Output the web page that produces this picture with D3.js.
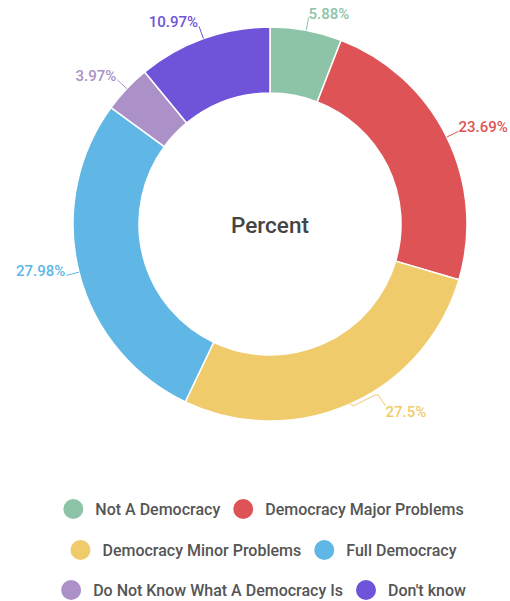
<!DOCTYPE html>
<html>
<head>
<meta charset="utf-8">
<script src="https://cdn.jsdelivr.net/npm/d3@7"></script>
<style>
  body { margin: 0; background: #fff; }
  text { font-family: Roboto, "Noto Sans", sans-serif; }
</style>
</head>
<body>
<div id="chart"></div>
<script>
let width = 510,
    height = 601;

let categories = ["Not A Democracy", "Democracy Major Problems", "Democracy Minor Problems",
                  "Full Democracy", "Do Not Know What A Democracy Is", "Don't know"];
let values = [5.88, 23.69, 27.5, 27.98, 3.97, 10.97];
let colors = ["#8dc4a7", "#de5456", "#f0cb6b", "#60b7e5", "#ab91c7", "#6f54d9"];
let legendRows = [[0, 1], [2, 3], [4, 5]];

let cx = 270, cy = 224,
    outerR = 197, innerR = 131;

let svg = d3.select("#chart").append("svg")
    .attr("width", width)
    .attr("height", height);

let data = categories.map((c, i) => ({ name: c, value: values[i], color: colors[i] }));

let pie = d3.pie()
    .sort(null)
    .value(d => d.value);

let arc = d3.arc()
    .innerRadius(innerR)
    .outerRadius(outerR);

let arcs = pie(data);

let g = svg.append("g")
    .attr("transform", `translate(${cx},${cy})`);

g.selectAll("path.slice")
    .data(arcs)
    .enter()
    .append("path")
    .attr("class", "slice")
    .attr("d", arc)
    .attr("fill", d => d.data.color)
    .attr("stroke", "#fff")
    .attr("stroke-width", 1.5);

// labels with leader lines
let polar = (a, r) => [r * Math.sin(a), -r * Math.cos(a)];
// the bottom label was pushed sideways in the original
let nudge = { "Democracy Minor Problems": 30 };

arcs.forEach(d => {
  let a = (d.startAngle + d.endAngle) / 2;
  let p1 = polar(a, outerR);
  let p2 = polar(a, outerR + 13);
  let right = a < Math.PI;
  let dx = nudge[d.data.name] || 0;
  let pts = [p1, p2];
  if (dx) {
    pts = [p1, [p1[0] + 3, p1[1] + 2], [p1[0] + 25, p1[1] - 9], [p1[0] + 28, p1[1] - 9], [p2[0] + dx, p2[1] - 10]];
  }
  g.append("polyline")
      .attr("points", pts.map(p => p.join(",")).join(" "))
      .attr("fill", "none")
      .attr("stroke", d.data.color)
      .attr("stroke-width", 1);
  g.append("text")
      .attr("x", p2[0] + dx + (right ? 0 : -1))
      .attr("y", p2[1] + 1)
      .attr("text-anchor", right ? "start" : "end")
      .attr("fill", d.data.color)
      .style("font-size", "15px")
      .style("font-weight", 500)
      .text(d.data.value + "%");
});

g.append("text")
    .attr("x", 0)
    .attr("y", 9)
    .attr("text-anchor", "middle")
    .attr("fill", "#444")
    .style("font-size", "22.5px")
    .style("font-weight", 500)
    .text("Percent");

// legend
let legend = svg.append("g");
let rowY = [509, 550, 590];

legendRows.forEach((row, ri) => {
  let rg = legend.append("g");
  let x = 0;
  row.forEach((idx, k) => {
    if (k > 0) x += 13;
    rg.append("circle")
        .attr("cx", x + 10)
        .attr("cy", 0)
        .attr("r", 10)
        .attr("fill", colors[idx]);
    x += 20 + 12;
    let t = rg.append("text")
        .attr("x", x)
        .attr("y", 5.5)
        .attr("fill", "#555")
        .style("font-size", "16px")
        .style("font-weight", 500)
        .text(categories[idx]);
    x += t.node().getComputedTextLength();
  });
  rg.attr("transform", `translate(${263.5 - x / 2},${rowY[ri]})`);
});
</script>
</body>
</html>
